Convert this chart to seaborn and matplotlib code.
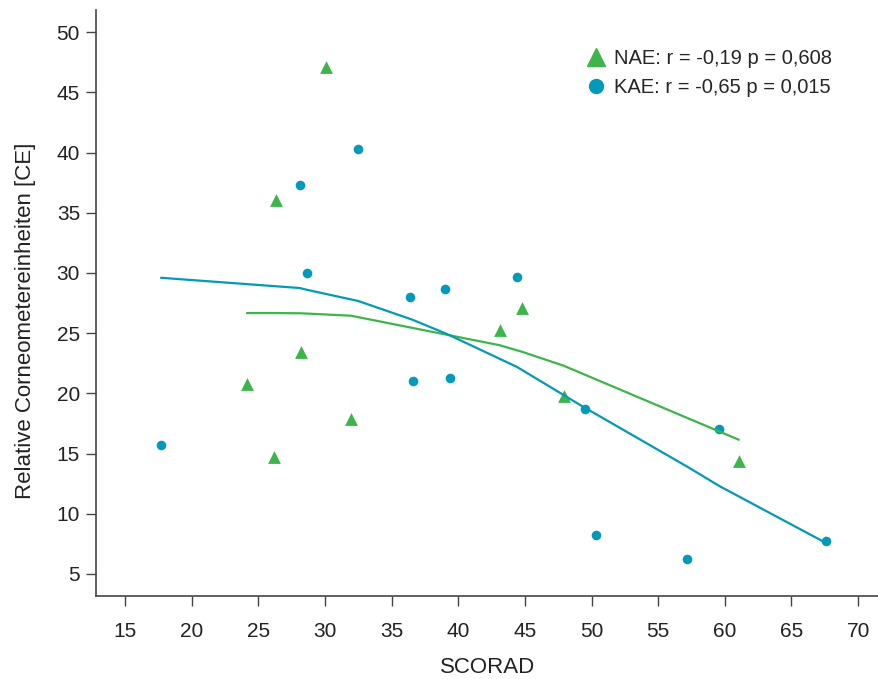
import numpy as np
import pandas as pd
import matplotlib.pyplot as plt
from matplotlib.lines import Line2D
import seaborn as sns

sns.set_style('white')
plt.rcParams['font.family'] = ['Liberation Sans', 'DejaVu Sans']

# NAE points (SCORAD, CE)
nae_x = [30.1, 26.3, 24.15, 26.2, 28.2, 31.95, 43.1, 44.8, 47.9, 61.05]
nae_y = [47.1, 36.1, 20.8, 14.7, 23.4, 17.9, 25.3, 27.1, 19.8, 14.4]

# KAE points
kae_x = [17.7, 28.1, 32.5, 28.65, 36.4, 39.0, 44.4, 36.6, 39.4, 49.5, 50.3, 57.2, 59.6, 67.6]
kae_y = [15.7, 37.3, 40.3, 30.0, 28.0, 28.7, 29.7, 21.0, 21.3, 18.7, 8.2, 6.25, 17.0, 7.7]

# smoothed lines
nae_line_x = [24.15, 26.2, 28.2, 30.1, 31.95, 43.1, 44.8, 47.9, 61.05]
nae_line_y = [26.67, 26.67, 26.65, 26.55, 26.45, 24.0, 23.45, 22.3, 16.15]
kae_line_x = [17.7, 28.1, 28.65, 32.5, 36.4, 36.6, 39.0, 39.4, 44.4, 49.5, 50.3, 57.2, 59.6, 67.6]
kae_line_y = [29.6, 28.75, 28.6, 27.67, 26.18, 26.1, 25.0, 24.8, 22.2, 18.8, 18.3, 13.9, 12.3, 7.57]

labels = ['NAE: r = -0,19 p = 0,608', 'KAE: r = -0,65 p = 0,015']
green = '#3db54a'
blue = '#0399b8'

fig = plt.figure(figsize=(8.79, 6.79), dpi=100)
ax = fig.add_axes([0.1092, 0.1222, 0.8908, 0.8631])

pts = pd.DataFrame({
    'x': nae_x + kae_x,
    'y': nae_y + kae_y,
    'g': ['NAE'] * len(nae_x) + ['KAE'] * len(kae_x),
})
lines = pd.DataFrame({
    'x': nae_line_x + kae_line_x,
    'y': nae_line_y + kae_line_y,
    'g': ['NAE'] * len(nae_line_x) + ['KAE'] * len(kae_line_x),
})
pal = {'NAE': green, 'KAE': blue}

sns.lineplot(data=lines, x='x', y='y', hue='g', palette=pal, sort=False,
             estimator=None, lw=1.6, legend=False, ax=ax)
sns.scatterplot(data=pts[pts.g == 'NAE'], x='x', y='y', color=green, marker='^',
                s=85, linewidth=0, ax=ax)
sns.scatterplot(data=pts[pts.g == 'KAE'], x='x', y='y', color=blue, marker='o',
                s=48, linewidth=0, ax=ax)

ax.set_xlim(12.82, 71.57)
ax.set_ylim(3.17, 51.84)
ax.set_xticks(range(15, 75, 5))
ax.set_yticks(range(5, 55, 5))
for s in ['top', 'right']:
    ax.spines[s].set_visible(False)
for s in ['left', 'bottom']:
    ax.spines[s].set_color('#444444')
    ax.spines[s].set_linewidth(1.2)
ax.tick_params(axis='both', bottom=True, left=True, direction='out', length=7.5,
               width=1, color='#444444', labelsize=15, labelcolor='#222222')
ax.tick_params(axis='x', pad=11)
ax.tick_params(axis='y', pad=4)
ax.set_xlabel('SCORAD', fontsize=16, color='#222222', labelpad=12)
ax.set_ylabel('Relative Corneometereinheiten [CE]', fontsize=16, color='#222222')
ax.yaxis.set_label_coords(-0.077, 0.47)

handles = [
    Line2D([], [], ls='none', marker='^', color=green, markersize=13),
    Line2D([], [], ls='none', marker='o', color=blue, markersize=10),
]
ax.legend(handles, labels, loc='upper left', bbox_to_anchor=(0.613, 0.947),
          frameon=False, fontsize=14.5, handletextpad=0.3, labelspacing=0.5,
          handlelength=1.2, borderaxespad=0)

fig.savefig('out.png', dpi=100)
